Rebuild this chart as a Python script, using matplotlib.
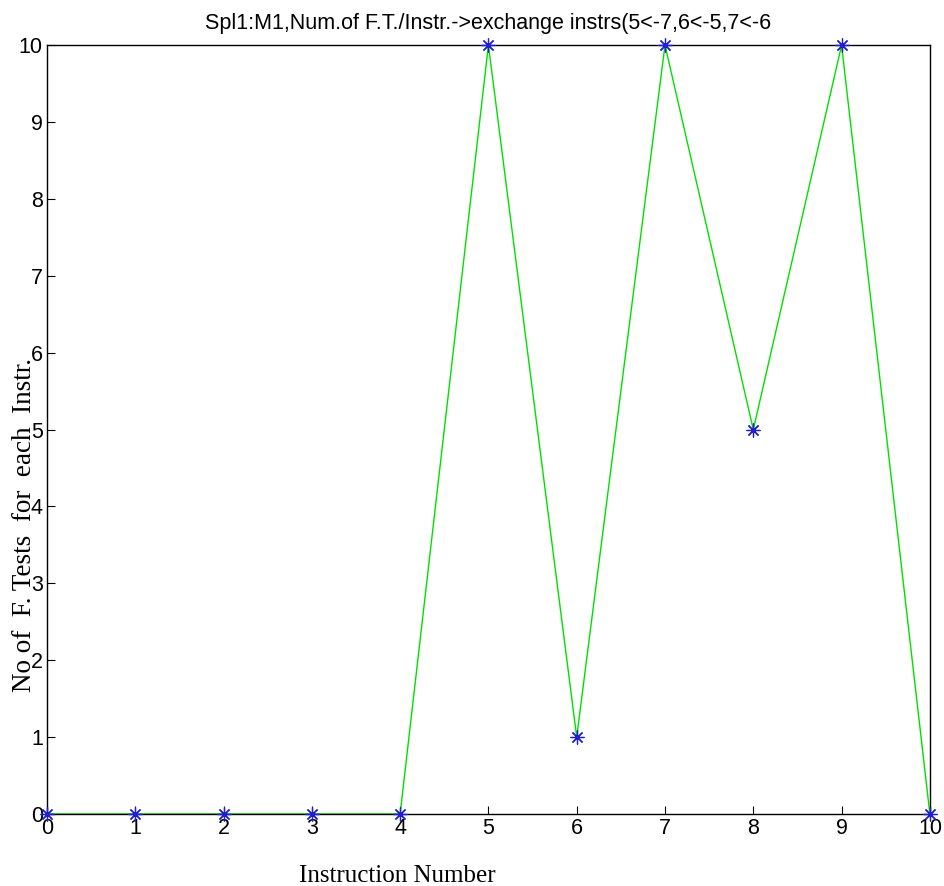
import matplotlib.pyplot as plt

# instruction numbers and number of fault tests per instruction
instr = [0, 1, 2, 3, 4, 5, 6, 7, 8, 9, 10]
num_tests = [0, 0, 0, 0, 0, 10, 1, 10, 5, 10, 0]
ticks = list(range(11))

sans = ['Liberation Sans Narrow', 'Liberation Sans', 'DejaVu Sans']
serif = ['Liberation Serif', 'DejaVu Serif']

fig = plt.figure(figsize=(9.45, 8.86), dpi=100)
ax = fig.add_axes([0.0497, 0.0813, 0.9343, 0.8677])

ax.plot(instr, num_tests, color='#00e000', linewidth=1, zorder=2, clip_on=False)
ax.plot(instr, num_tests, linestyle='none', marker=(8, 2, 0), markersize=10,
        color='#2020d0', markeredgewidth=0.9, zorder=3, clip_on=False)

ax.set_xlim(0, 10)
ax.set_ylim(0, 10)
ax.set_xticks(ticks)
ax.set_yticks(ticks)
ax.tick_params(direction='in', length=6, width=0.8, labelsize=15.5, pad=3)
for lbl in ax.get_xticklabels() + ax.get_yticklabels():
    lbl.set_family(sans)
for s in ax.spines.values():
    s.set_linewidth(1)

ax.set_title('Spl1:M1,Num.of F.T./Instr.->exchange instrs(5<-7,6<-5,7<-6',
             fontsize=15.5, family=sans, pad=12)
fig.text(397 / 945, 1 - 882 / 886, 'Instruction Number', fontsize=18,
         family=serif, ha='center', va='baseline')
fig.text(25 / 945, 1 - 525 / 886, 'No of  F. Tests  for  each  Instr.',
         fontsize=19.5, family=serif, rotation=90, ha='center', va='center')

fig.savefig('out.png', dpi=100)
